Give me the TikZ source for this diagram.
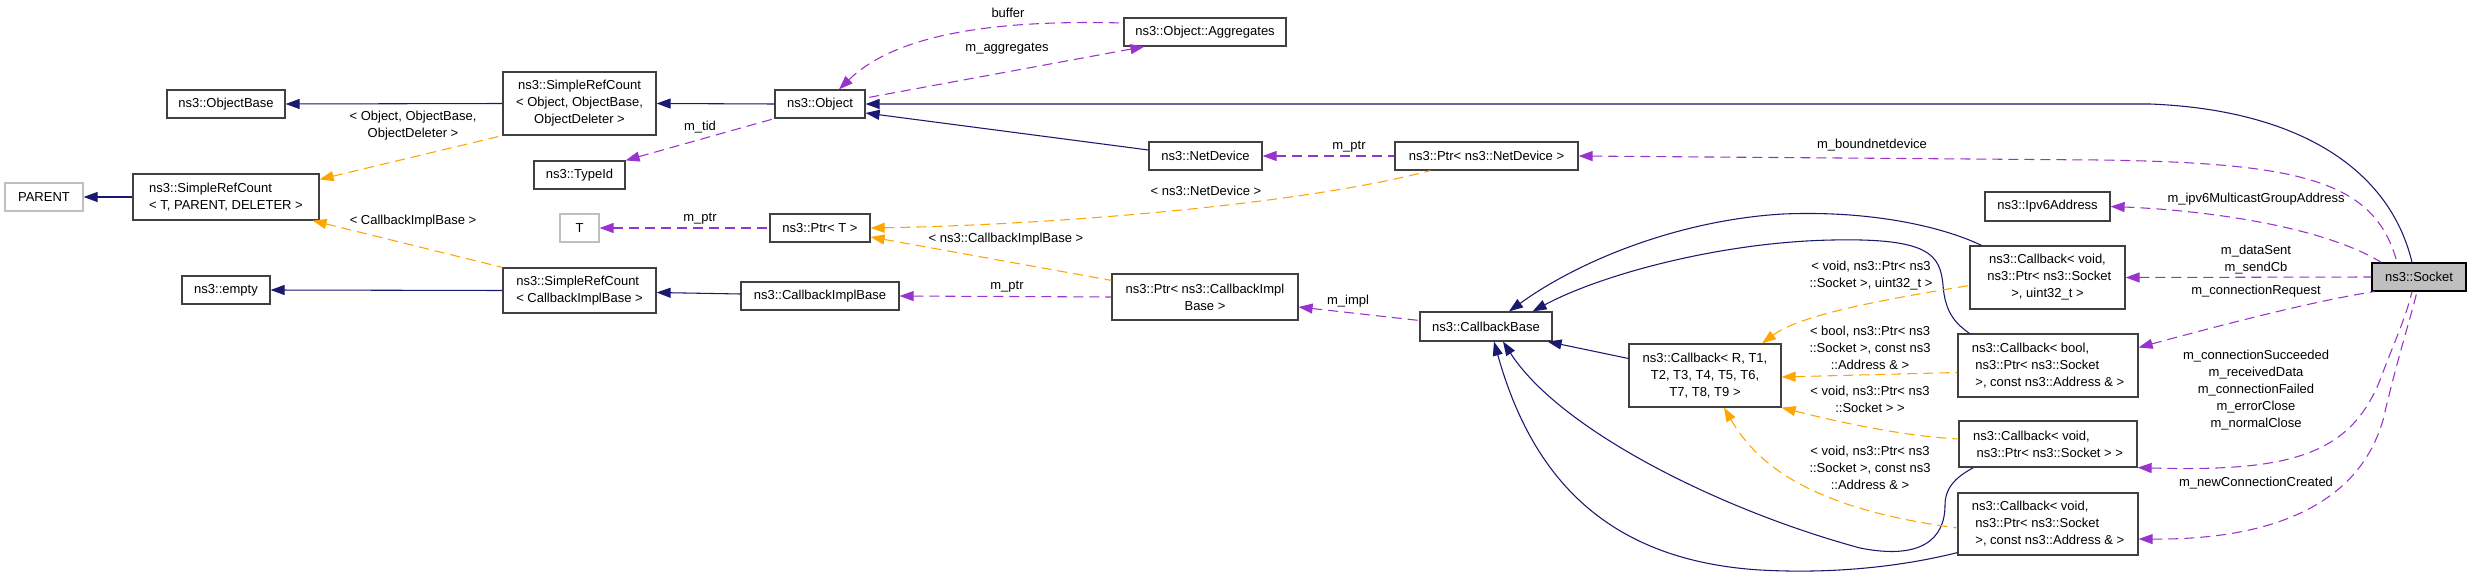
\documentclass[tikz,border=0pt]{standalone}
\usepackage{fontspec}
\setmainfont{Liberation Sans}
\usetikzlibrary{arrows.meta,calc}
\definecolor{navy}{HTML}{191970}
\definecolor{orch}{HTML}{9A32CD}
\definecolor{orng}{HTML}{FFA500}
\definecolor{bord}{HTML}{404040}
\definecolor{gbord}{HTML}{BFBFBF}
\definecolor{sockfill}{HTML}{BFBFBF}
\newcommand\dxf{\fontsize{9.75}{12.75}\selectfont}
\newcommand\lsp{\hspace*{0.28em}}
\newcommand\bx[7][cls]{\node[#1, minimum width={(#5-#3)*0.75pt}, minimum height={(#6-#4)*0.75pt}] (#2) at ({(#3+#5)/2},{(#4+#6)/2}) {#7};}
\tikzset{
  cls/.style={draw=bord, line width=0.9pt, fill=white, inner sep=0pt, font=\dxf, align=center},
  clsl/.style={cls, align=left},
  gcls/.style={cls, draw=gbord},
  sockcls/.style={cls, fill=sockfill, draw=black},
  inh/.style={draw=navy, line width=0.8pt, arrows={Triangle[length=10.5pt,width=7.5pt,fill=navy]-}},
  mem/.style={draw=orch, line width=0.8pt, dash pattern=on 7.5pt off 4.5pt, arrows={Triangle[length=10.5pt,width=7.5pt,fill=orch]-}},
  tpl/.style={draw=orng, line width=0.8pt, dash pattern=on 7.5pt off 4.5pt, arrows={Triangle[length=10.5pt,width=7.5pt,fill=orng]-}},
  lbl/.style={font=\dxf, align=center, inner sep=0pt}
}
\begin{document}
\begin{tikzpicture}[x=0.75pt,y=-0.75pt]
\fill[white] (0,0) rectangle (2469,577);
\useasboundingbox (0,0) rectangle (2469,577);
% boxes
\bx{ob}{167}{90}{285}{118}{ns3::ObjectBase}
\bx[gcls]{parent}{5}{183}{83}{211}{PARENT}
\bx[clsl]{srt}{133}{174}{319}{220}{ns3::SimpleRefCount\\< T, PARENT, DELETER >}
\bx{sro}{503}{72}{656}{135}{ns3::SimpleRefCount\\< Object, ObjectBase,\\ObjectDeleter >}
\bx{tid}{534}{161}{625}{189}{ns3::TypeId}
\bx[gcls]{tt}{560}{214}{599}{242}{T}
\bx{empty}{182}{276}{270}{304}{ns3::empty}
\bx[clsl]{srcb}{503}{268}{656}{313}{ns3::SimpleRefCount\\< CallbackImplBase >}
\bx{obj}{775}{90}{865}{118}{ns3::Object}
\bx{agg}{1124}{18}{1286}{46}{ns3::Object::Aggregates}
\bx{nd}{1149}{142}{1262}{170}{ns3::NetDevice}
\bx{pt}{770}{214}{870}{242}{ns3::Ptr< T >}
\bx{cib}{741}{282}{899}{310}{ns3::CallbackImplBase}
\bx{pcb}{1112}{274}{1298}{320}{ns3::Ptr< ns3::CallbackImpl\\Base >}
\bx{pnd}{1395}{142}{1578}{170}{ns3::Ptr< ns3::NetDevice >}
\bx{cb}{1420}{312}{1552}{341}{ns3::CallbackBase}
\bx{cbr}{1629}{344}{1781}{407}{ns3::Callback< R, T1,\\T2, T3, T4, T5, T6,\\T7, T8, T9 >}
\bx{ipv}{1985}{192}{2110}{221}{ns3::Ipv6Address}
\bx{cu}{1970}{246}{2125}{309}{ns3::Callback< void,\\\lsp ns3::Ptr< ns3::Socket\\>, uint32\_t >}
\bx[clsl]{cbool}{1958}{334}{2138}{397}{ns3::Callback< bool,\\\lsp ns3::Ptr< ns3::Socket\\\lsp >, const ns3::Address \& >}
\bx[clsl]{cvs}{1959}{421}{2137}{467}{ns3::Callback< void,\\\lsp ns3::Ptr< ns3::Socket > >}
\bx[clsl]{cva}{1958}{493}{2138}{555}{ns3::Callback< void,\\\lsp ns3::Ptr< ns3::Socket\\\lsp >, const ns3::Address \& >}
\bx[sockcls]{sock}{2372}{263}{2466}{291}{ns3::Socket}
% left part
\draw[inh] (ob.east) -- (sro.west);
\draw[inh] (sro.east) -- (obj.west);
\draw[tpl] ($(srt.north east)+(0,6)$) -- (sro.south west);
\draw[inh] (parent.east) -- (srt.west);
\draw[tpl] ($(srt.south east)+(-7,0)$) -- (srcb.north west);
\draw[inh] (empty.east) -- (srcb.west);
\draw[mem] (tid.north east) -- (obj.south west);
\draw[mem] ($(agg.south west)+(21,0)$) -- ($(obj.east)+(0,-6)$);
\draw[mem] ($(obj.north)+(19,0)$) .. controls (900,30) and (1010,20) .. ($(agg.west)+(0,-9)$);
\draw[inh] (obj.east) -- (2150,104) .. controls (2300,110) and (2390,170) .. ($(sock.north)+(-7,0)$);
\draw[inh] ($(obj.east)+(0,9)$) -- ($(nd.west)+(0,-6)$);
\draw[mem] (nd.east) -- (pnd.west);
\draw[mem] (pnd.east) -- (2100,160) .. controls (2300,163) and (2375,180) .. ($(sock.north)+(-22,0)$);
\draw[tpl] (pt.east) .. controls (1050,225) and (1300,205) .. ($(pnd.south west)+(36,0)$);
\draw[tpl] ($(pt.east)+(0,9)$) -- ($(pcb.north west)+(0,7)$);
\draw[mem] (tt.east) -- (pt.west);
\draw[inh] ($(srcb.east)+(0,2)$) -- ($(cib.west)+(0,-2)$);
\draw[mem] (cib.east) -- (pcb.west);
\draw[mem] ($(pcb.east)+(0,10)$) -- ($(cb.west)+(0,-6)$);
% callbacks
\draw[inh] ($(cb.south east)+(-5,0)$) -- ($(cbr.west)+(0,-17)$);
\draw[inh] ($(cb.north)+(23,0)$) .. controls (1580,260) and (1680,220) .. (1783,214) .. controls (1880,210) and (1950,230) .. ($(cu.north west)+(12,0)$);
\draw[inh] ($(cb.north east)+(-20,0)$) .. controls (1600,275) and (1720,242) .. (1833,240) .. controls (1930,238) and (1940,255) .. (1943,285) .. controls (1945,315) and (1958,325) .. ($(cbool.north west)+(12,0)$);
\draw[inh] ($(cb.south)+(17,0)$) .. controls (1560,430) and (1720,510) .. (1860,548) .. controls (1920,560) and (1945,540) .. (1945,505) .. controls (1945,485) and (1960,475) .. ($(cvs.south west)+(15,0)$);
\draw[inh] ($(cb.south)+(8,0)$) .. controls (1530,470) and (1600,560) .. (1760,570) .. controls (1850,575) and (1920,562) .. ($(cva.south west)+(0,-3)$);
\draw[tpl] ($(cbr.north)+(57,0)$) .. controls (1800,315) and (1880,300) .. ($(cu.west)+(0,8)$);
\draw[tpl] ($(cbr.east)+(0,1.5)$) -- ($(cbool.west)+(0,7)$);
\draw[tpl] (cbr.south east) .. controls (1830,420) and (1900,436) .. ($(cvs.west)+(0,-5)$);
\draw[tpl] ($(cbr.south)+(19,0)$) .. controls (1760,470) and (1820,510) .. ($(cva.west)+(0,4)$);
% socket members
\draw[mem] (ipv.east) .. controls (2200,210) and (2320,225) .. ($(sock.north west)+(10,0)$);
\draw[mem] (cu.east) -- (sock.west);
\draw[mem] ($(cbool.east)+(0,-18)$) .. controls (2240,320) and (2320,300) .. ($(sock.south west)+(3,0)$);
\draw[mem] (cvs.south east) .. controls (2290,472) and (2350,455) .. (2380,380) .. controls (2395,340) and (2405,320) .. ($(sock.south)+(-7,0)$);
\draw[mem] ($(cva.east)+(0,15)$) .. controls (2280,540) and (2360,500) .. (2383,420) .. controls (2397,360) and (2410,320) .. ($(sock.south)+(-2,0)$);
% labels
\node[lbl] (l1) at (413,126) {< Object, ObjectBase,\\ObjectDeleter >};
\node[lbl] (l2) at (413,221) {< CallbackImplBase >};
\node[lbl] (l3) at (700,127) {m\_tid};
\node[lbl] (l4) at (1008,13) {buffer};
\node[lbl] (l5) at (1007,49) {m\_aggregates};
\node[lbl] (l6) at (700,219) {m\_ptr};
\node[lbl] (l7) at (1206,191) {< ns3::NetDevice >};
\node[lbl] (l8) at (1006,239) {< ns3::CallbackImplBase >};
\node[lbl] (l9) at (1007,287) {m\_ptr};
\node[lbl] (l10) at (1349,147) {m\_ptr};
\node[lbl] (l11) at (1348,301) {m\_impl};
\node[lbl] (l12) at (1872,145) {m\_boundnetdevice};
\node[lbl] (l13) at (1871,275.5) {< void, ns3::Ptr< ns3\\::Socket >, uint32\_t >};
\node[lbl] (l14) at (1870,348) {< bool, ns3::Ptr< ns3\\::Socket >, const ns3\\::Address \& >};
\node[lbl] (l15) at (1870,399) {< void, ns3::Ptr< ns3\\::Socket > >};
\node[lbl] (l16) at (1870,468) {< void, ns3::Ptr< ns3\\::Socket >, const ns3\\::Address \& >};
\node[lbl] (l17) at (2256,199) {m\_ipv6MulticastGroupAddress};
\node[lbl] (l18) at (2256,259.5) {m\_dataSent\\m\_sendCb};
\node[lbl] (l19) at (2256,291) {m\_connectionRequest};
\node[lbl] (l20) at (2256,390) {m\_connectionSucceeded\\m\_receivedData\\m\_connectionFailed\\m\_errorClose\\m\_normalClose};
\node[lbl] (l21) at (2256,483) {m\_newConnectionCreated};
\end{tikzpicture}
\end{document}
